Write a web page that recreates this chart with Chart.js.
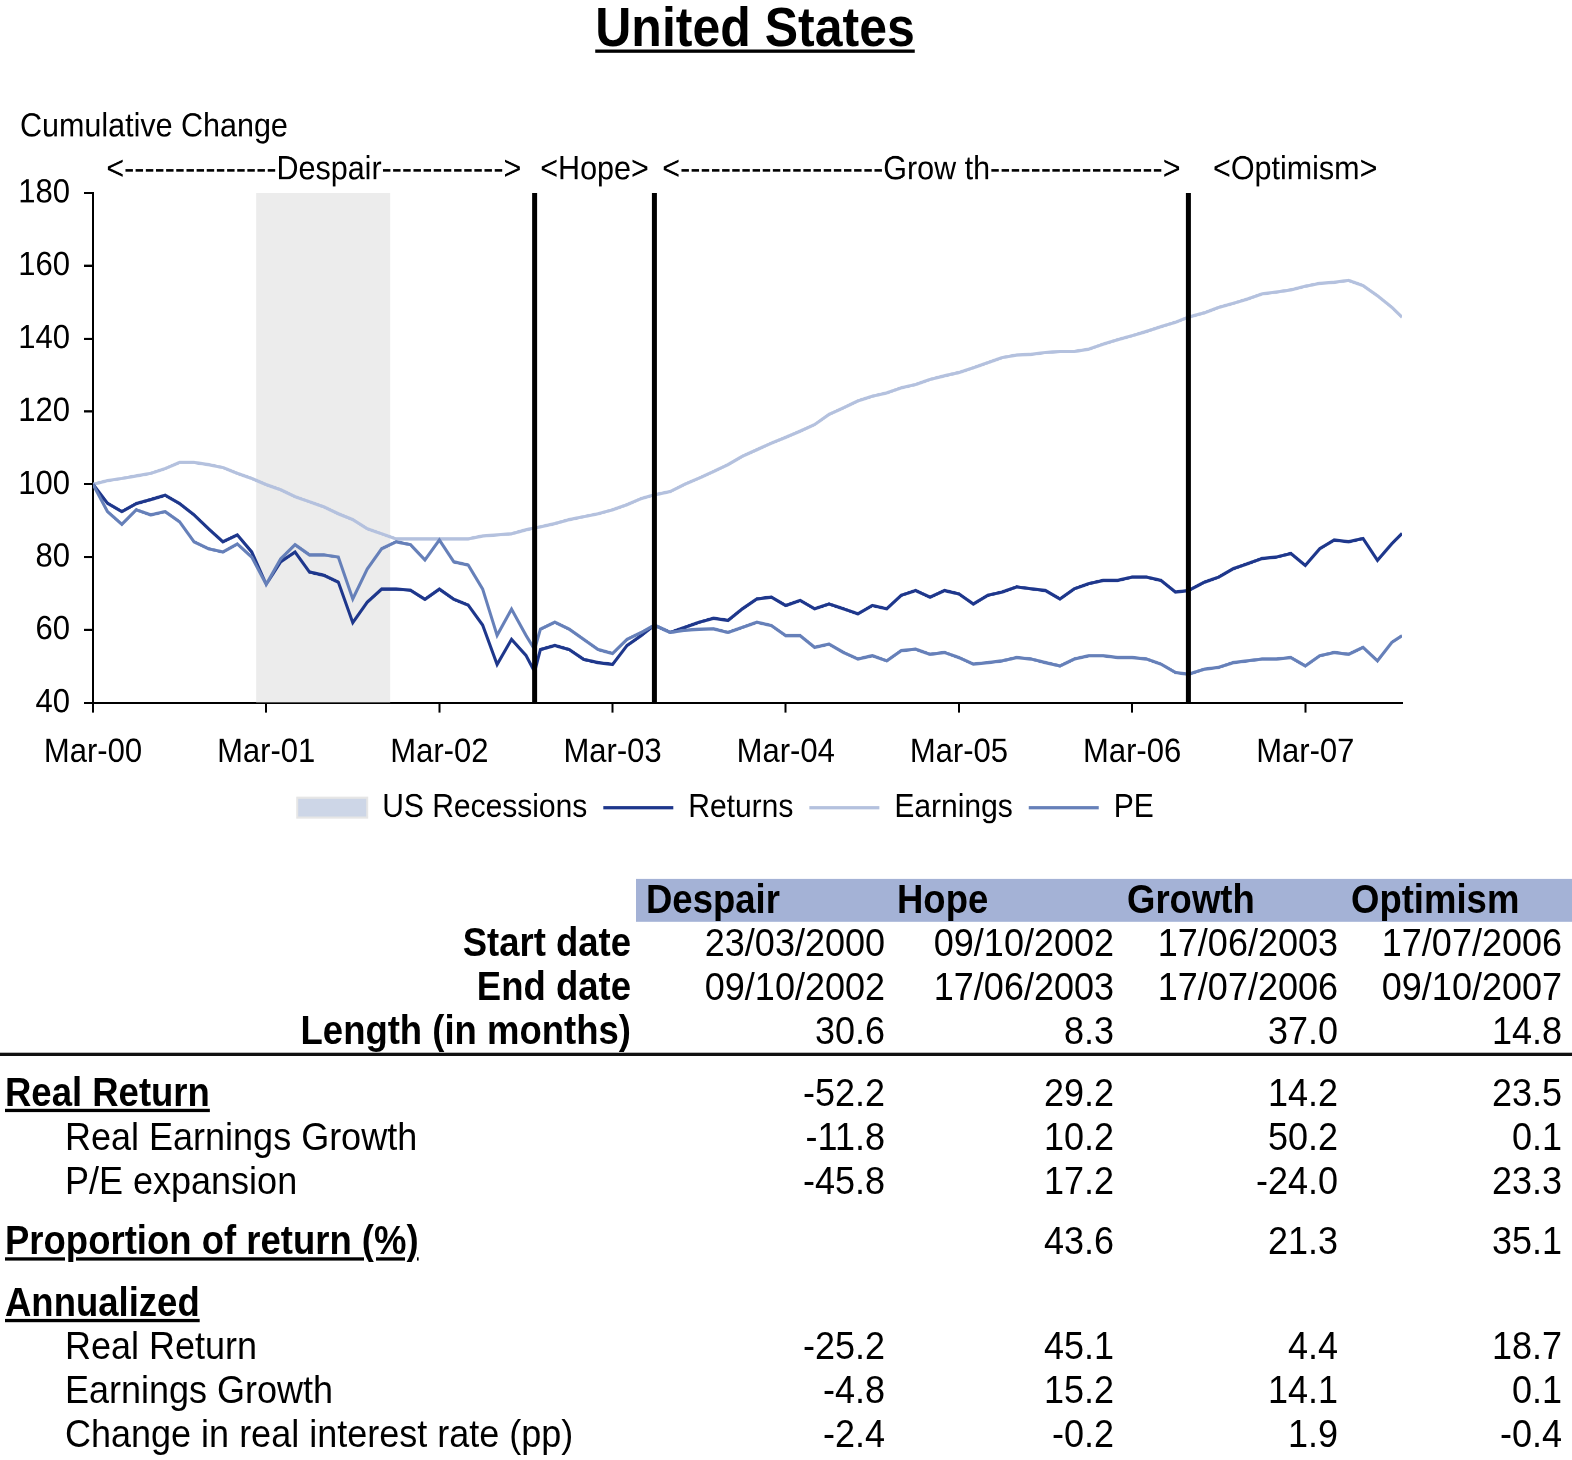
<!DOCTYPE html>
<html>
<head>
<meta charset="utf-8">
<script src="https://cdn.jsdelivr.net/npm/chart.js@4.4.1/dist/chart.umd.min.js"></script>
<style>
  html, body { margin: 0; background: #fff; height: 1460px; }
  /* the reference text is a bit taller than wide, so the page is stretched vertically */
  #page { position: relative; width: 1572px; height: 1327px; transform: scaleY(1.1); transform-origin: 0 0;
          font-family: "Liberation Sans", Arial, sans-serif; color: #000; }
  #title { position: absolute; left: 0; top: 0; width: 1510px; text-align: center; font-weight: bold;
           font-size: 50px; line-height: 50px; text-decoration: underline; text-decoration-thickness: 2.7px;
           text-underline-offset: 3px; }
  #chartBox { position: absolute; left: 0; top: 0; width: 1572px; height: 765px; }
  #chart { display: block; }
  #band { position: absolute; left: 636px; width: 936px; top: 799px; height: 39px; background: #a4b2d6; }
  #rule { position: absolute; left: 0; width: 1572px; top: 957px; height: 2.7px; background: #111; }
  .cell { position: absolute; height: 44px; line-height: 44px; font-size: 36px; white-space: nowrap; }
  .b { font-weight: bold; font-size: 36.5px; }
  .u { text-decoration: underline; text-decoration-thickness: 2.7px; text-underline-offset: 3px; }
</style>
</head>
<body>
<div id="page">
  <div id="title">United States</div>
  <div id="chartBox"><canvas id="chart" width="1572" height="765"></canvas></div>
  <div id="band"></div>
  <div id="rule"></div>
</div>
<script>
// months since 23/03/2000
const months = [0,1,2,3,4,5,6,7,8,9,10,11,12,13,14,15,16,17,18,19,20,21,22,23,24,25,26,27,28,29,30,30.6,
  31,32,33,34,35,36,37,38,38.9,40,41,42,43,44,45,46,47,48,49,50,51,52,53,54,55,56,57,58,59,
  60,61,62,63,64,65,66,67,68,69,70,71,72,73,74,75,75.9,77,78,79,80,81,82,83,84,85,86,87,88,89,90,90.7]

const returns = [100,94.8,92.5,94.7,95.8,97,94.7,91.6,87.8,84.2,86.1,
  81.4,72.5,78.7,81.4,75.9,75,73.1,62,67.6,71.2,
  71.2,70.9,68.4,71.2,68.4,66.8,61.3,50.5,57.4,53,
  48.5,
  54.6,55.7,54.6,51.9,51,50.5,55.7,58.5,
  61.3,
  59.3,60.7,62.1,63.2,62.6,65.8,68.5,69,66.7,68.1,
  65.8,67.1,65.8,64.4,66.7,65.8,69.5,70.8,69,70.8,
  69.9,67.1,69.5,70.4,71.8,71.3,70.8,68.5,71.3,72.7,
  73.6,73.6,74.5,74.5,73.6,70.4,
  70.8,
  73.1,74.5,76.8,78.2,79.6,80,81,77.7,82.3,84.7,84.2,85.1,79.1,83.7,
  86.5]

const earnings = [100,101,101.6,102.3,103,104.3,106,106,105.4,104.6,103,
  101.6,99.9,98.5,96.6,95.2,93.8,91.9,90.3,87.8,86.4,
  85,85,85,85,85,85,85.8,86.1,86.4,87.5,
  88,
  88.3,89.2,90.3,91.1,91.9,93,94.4,96.1,
  97.1,
  98,100,101.7,103.5,105.4,107.7,109.5,111.3,112.9,114.6,
  116.4,119.2,121,122.9,124.2,125.1,126.5,127.4,128.8,129.8,
  130.7,132,133.4,134.8,135.5,135.7,136.2,136.5,136.5,137.1,
  138.5,139.7,140.8,142,143.3,144.5,
  145.9,
  147.1,148.6,149.7,150.9,152.3,152.8,153.4,154.4,155.2,155.5,156,154.6,151.8,148.6,
  145.9]

const pe = [100,92.5,89,93,91.6,92.5,89.7,84.2,82.3,81.4,83.6,
  80,72.5,79.5,83.4,80.6,80.6,80,68.5,76.7,82.3,
  84.2,83.4,79.2,84.7,78.7,77.8,71.2,58.5,65.7,58.5,
  54.6,
  60.2,62.1,60.2,57.4,54.6,53.5,57.4,59.3,
  61.3,
  59.3,59.9,60.2,60.3,59.3,60.7,62.1,61.2,58.4,58.4,
  55.2,56.1,53.8,52,52.9,51.5,54.3,54.7,53.3,53.8,
  52.4,50.6,51,51.5,52.4,52,51,50.1,52,52.9,
  52.9,52.4,52.4,52,50.6,48.3,
  47.8,
  49.2,49.7,51,51.5,52,52,52.4,50.1,52.9,53.8,53.3,55.2,51.5,56.6,
  58.4]

const tickMonths = [0,12,24,36,48,60,72,84]
const tickLabels = ['Mar-00','Mar-01','Mar-02','Mar-03','Mar-04','Mar-05','Mar-06','Mar-07']
const recession = [11.3, 20.6]
const phaseBounds = [0, 30.6, 38.9, 75.9, 90.7]
const phaseLabels = ['<---------------Despair------------>', '<Hope>',
  '<--------------------Grow th----------------->', '<Optimism>']

// table
const phaseNames = ['Despair','Hope','Growth','Optimism']
const startDates = ['23/03/2000','09/10/2002','17/06/2003','17/07/2006']
const endDates = ['09/10/2002','17/06/2003','17/07/2006','09/10/2007']
const lengths = ['30.6','8.3','37.0','14.8']
const realReturn = ['-52.2','29.2','14.2','23.5']
const realEarnings = ['-11.8','10.2','50.2','0.1']
const peExpansion = ['-45.8','17.2','-24.0','23.3']
const proportion = ['','43.6','21.3','35.1']
const annReturn = ['-25.2','45.1','4.4','18.7']
const annEarnings = ['-4.8','15.2','14.1','0.1']
const rateChange = ['-2.4','-0.2','1.9','-0.4']

const page = document.getElementById('page')
function cell(text, cls, y, pos){
    const d = document.createElement('div')
    d.className = 'cell ' + cls
    d.textContent = text
    d.style.top = (y - 22) + 'px'
    Object.assign(d.style, pos)
    page.appendChild(d)
}
const headLeft = [646, 897, 1127, 1351]
const colRight = [885, 1114, 1338, 1562]
phaseNames.forEach((n, i) => cell(n, 'b', 818, {left: headLeft[i] + 'px'}))

const rows = [
    ['Start date', startDates, 'b', 856.5, 'r'],
    ['End date', endDates, 'b', 897.3, 'r'],
    ['Length (in months)', lengths, 'b', 937.3, 'r'],
    ['Real Return', realReturn, 'b u', 992.7, 'l'],
    ['Real Earnings Growth', realEarnings, '', 1032.7, 'i'],
    ['P/E expansion', peExpansion, '', 1072.7, 'i'],
    ['Proportion of return (%)', proportion, 'b u', 1128.2, 'l'],
    ['Annualized', null, 'b u', 1183.6, 'l'],
    ['Real Return', annReturn, '', 1222.7, 'i'],
    ['Earnings Growth', annEarnings, '', 1262.7, 'i'],
    ['Change in real interest rate (pp)', rateChange, '', 1302.7, 'i']
]
for(const [label, vals, cls, y, align] of rows){
    if(align == 'r') cell(label, cls, y, {right: (1572 - 631) + 'px'})
    else cell(label, cls, y, {left: (align == 'l' ? 5 : 65) + 'px'})
    if(vals) vals.forEach((v, i) => cell(v, '', y, {right: (1572 - colRight[i]) + 'px'}))
}

// chart
const pts = arr => months.map((m, i) => ({x: m, y: arr[i]}))
const datasets = []
phaseBounds.slice(1, 4).forEach(b => datasets.push({
    label: 'phase', data: [{x: b, y: 40}, {x: b, y: 180}],
    borderColor: '#000', borderWidth: 5, pointRadius: 0
}))
datasets.push({label: 'PE', data: pts(pe), borderColor: '#6680b9', borderWidth: 3, pointRadius: 0})
datasets.push({label: 'Returns', data: pts(returns), borderColor: '#1e378c', borderWidth: 3, pointRadius: 0})
datasets.push({label: 'Earnings', data: pts(earnings), borderColor: '#b4c1de', borderWidth: 3, pointRadius: 0})
datasets.push({label: 'US Recessions', data: [{x: recession[0], y: 180}, {x: recession[1], y: 180}],
    borderWidth: 0, backgroundColor: '#ececec', fill: 'start', pointRadius: 0})

const legendOrder = ['US Recessions', 'Returns', 'Earnings', 'PE']

const phaseText = {
    id: 'phaseText',
    afterDraw(chart){
        const {ctx} = chart
        const x = chart.scales.x
        ctx.save()
        ctx.fillStyle = '#000'
        ctx.font = '30.5px "Liberation Sans"'
        ctx.textBaseline = 'middle'
        ctx.textAlign = 'left'
        ctx.fillText('Cumulative Change', 20, 115.5)
        ctx.textAlign = 'center'
        phaseLabels.forEach((t, i) => {
            ctx.fillText(t, x.getPixelForValue((phaseBounds[i] + phaseBounds[i + 1]) / 2), 154.5)
        })
        ctx.restore()
    }
}
// the legend sits a little left of the plot centre
const legendShift = {
    id: 'legendShift',
    afterLayout(chart){
        chart.legend.left -= 22
        chart.legend.right -= 22
    }
}

Chart.defaults.font.family = '"Liberation Sans", Arial, sans-serif'
Chart.defaults.color = '#000'

const axisGrid = {drawOnChartArea: false, drawTicks: true, tickLength: 9, color: '#000', lineWidth: 2}
new Chart(document.getElementById('chart'), {
    type: 'line',
    data: {datasets},
    plugins: [phaseText, legendShift],
    options: {
        responsive: false,
        animation: false,
        devicePixelRatio: 2,
        layout: {padding: {top: 175.5, right: 170, bottom: 5.8, left: 0}},
        plugins: {
            tooltip: {enabled: false},
            legend: {
                position: 'bottom',
                fullSize: false,
                labels: {
                    usePointStyle: true, pointStyleWidth: 70, boxHeight: 18, padding: 16,
                    color: '#000', font: {size: 30},
                    generateLabels: chart => legendOrder.map(name => {
                        const ds = chart.data.datasets.find(d => d.label == name)
                        const box = name == 'US Recessions'
                        return {
                            text: name,
                            pointStyle: box ? 'rect' : 'line',
                            fillStyle: box ? '#cdd6e7' : ds.borderColor,
                            strokeStyle: box ? '#e6e6e6' : ds.borderColor,
                            lineWidth: box ? 2 : 3,
                            hidden: false,
                            datasetIndex: chart.data.datasets.indexOf(ds)
                        }
                    })
                }
            }
        },
        scales: {
            x: {
                type: 'linear', min: 0, max: 90.7,
                afterBuildTicks: s => { s.ticks = tickMonths.map(v => ({value: v})) },
                afterFit: s => { s.height = 64.4 },
                ticks: {
                    callback: v => tickLabels[tickMonths.indexOf(v)],
                    font: {size: 31}, color: '#000', padding: 17.5, maxRotation: 0, autoSkip: false
                },
                grid: axisGrid,
                border: {color: '#000', width: 2}
            },
            y: {
                min: 40, max: 180,
                afterFit: s => { s.width = 93 },
                ticks: {stepSize: 20, font: {size: 31}, color: '#000', padding: 14},
                grid: axisGrid,
                border: {color: '#000', width: 2}
            }
        }
    }
})
</script>
</body>
</html>
